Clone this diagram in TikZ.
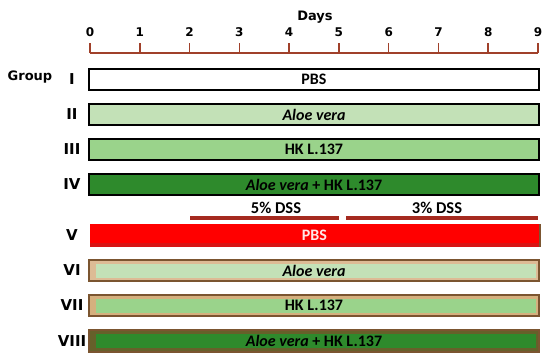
\documentclass[tikz,border=0pt]{standalone}
\usepackage{fontspec}
\newfontfamily\dvs{DejaVu Sans}
\newfontfamily\carl{Carlito}
\definecolor{axisc}{HTML}{A0402A}
\definecolor{dssc}{HTML}{A52A1F}
\definecolor{lgreen}{HTML}{C3E1B7}
\definecolor{mgreen}{HTML}{9AD38B}
\definecolor{dgreen}{HTML}{2E8A2C}
\definecolor{brownb}{HTML}{7B5530}
\definecolor{tanA}{HTML}{DDBB95}
\definecolor{tanB}{HTML}{D5B07E}
\definecolor{oliveb}{HTML}{66602A}
\definecolor{redbar}{HTML}{FF0000}
\definecolor{redbot}{HTML}{D81414}
\definecolor{pinkw}{HTML}{FFE8E8}
\tikzset{
  bar/.style={rectangle, minimum width=450pt, minimum height=21pt, inner sep=0pt, outer sep=0pt},
  plainbar/.style={bar, draw=black, line width=1.6pt},
  dssbar/.style={bar, draw=brownb, line width=1.4pt},
  lbl/.style={font=\carl\bfseries\fontsize{16}{18}\selectfont, inner sep=0pt},
  ilbl/.style={font=\carl\bfseries\itshape\fontsize{16}{18}\selectfont, inner sep=0pt},
  grp/.style={font=\dvs\bfseries\fontsize{15}{18}\selectfont, inner sep=0pt},
  tickl/.style={font=\dvs\bfseries\fontsize{12}{14}\selectfont, inner sep=0pt},
  ttl/.style={font=\dvs\bfseries\fontsize{13}{15}\selectfont, inner sep=0pt},
  dsst/.style={font=\carl\bfseries\fontsize{16.5}{18}\selectfont, inner sep=0pt},
}
\begin{document}
\begin{tikzpicture}[x=1pt,y=-1pt]
\useasboundingbox (0,0) rectangle (550,360);
% title and axis
\node[ttl] (days) at (315,17) {Days};
\coordinate (a0) at (90,53);
\coordinate (a9) at (538,53);
\draw[axisc, line width=1.6pt] (a0) -- (a9);
\foreach \k in {0,...,9} {
  \coordinate (tk\k) at ({90+49.78*\k},53);
  \draw[axisc, line width=1.6pt] (tk\k) -- ++(0,-10);
  \node[tickl] (tl\k) at ({90+49.78*\k},32) {\k};
}
% group label
\node[grp, font=\dvs\bfseries\fontsize{13}{15}\selectfont] (group) at (30,77) {Group};
% roman numerals
\foreach \n/\y in {I/79.5,II/114.5,III/149.5,IV/184.5,V/235.5,VI/270.5,VII/305.5,VIII/341}
  \node[grp] (r\n) at (72,\y) {\n};
% bars I-IV
\node[plainbar, fill=white] (b1) at (314,79.5) {};
\node[lbl] (t1) at (b1) {PBS};
\node[plainbar, fill=lgreen] (b2) at (314,114.5) {};
\node[ilbl] (t2) at (b2) {Aloe vera};
\node[plainbar, fill=mgreen] (b3) at (314,149.5) {};
\node[lbl] (t3) at (b3) {HK L.137};
\node[plainbar, fill=dgreen] (b4) at (314,184.5) {};
\node[inner sep=0pt] (t4) at (b4) {{\carl\bfseries\fontsize{16}{18}\selectfont\itshape Aloe vera\upshape{} + HK L.137}};
% DSS periods
\coordinate (d2) at (190,218);
\coordinate (d5a) at (339,218);
\coordinate (d5b) at (346,218);
\coordinate (d9) at (538,218);
\draw[dssc, line width=4pt] (d2) -- (d5a);
\draw[dssc, line width=4pt] (d5b) -- (d9);
\node[dsst] (s5) at (276,208) {5\% DSS};
\node[dsst] (s3) at (437,208) {3\% DSS};
% bar V
\node[bar, minimum height=23pt, fill=redbar] (b5) at (314.5,235.5) {};
\fill[redbot] ([yshift=4pt]b5.south west) rectangle (b5.south east);
\draw[brownb, line width=2pt] (b5.north east) -- (b5.south east);
\node[lbl, text=pinkw] (t5) at (b5) {PBS};
% bars VI-VIII
\node[dssbar, fill=tanA] (b6) at (314,270.5) {};
\fill[lgreen] ([shift={(7pt,-3.5pt)}]b6.north west) rectangle ([shift={(-3.5pt,3.5pt)}]b6.south east);
\node[ilbl] (t6) at (b6) {Aloe vera};
\node[dssbar, fill=tanB] (b7) at (314,305.5) {};
\fill[mgreen] ([shift={(7pt,-3.5pt)}]b7.north west) rectangle ([shift={(-3.5pt,3.5pt)}]b7.south east);
\node[lbl] (t7) at (b7) {HK L.137};
\node[dssbar, fill=oliveb, minimum height=22pt] (b8) at (314,341) {};
\fill[dgreen] ([shift={(7pt,-4pt)}]b8.north west) rectangle ([shift={(-3.5pt,4pt)}]b8.south east);
\node[inner sep=0pt] (t8) at (b8) {{\carl\bfseries\fontsize{16}{18}\selectfont\itshape Aloe vera\upshape{} + HK L.137}};
\end{tikzpicture}
\end{document}
